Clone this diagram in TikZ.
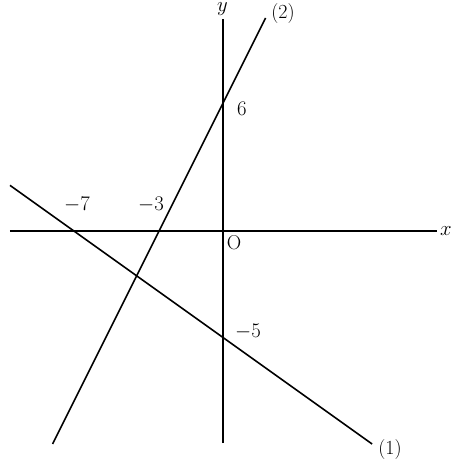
\documentclass[tikz,border=0pt]{standalone}
\begin{document}
\begin{tikzpicture}[x=21.3pt,y=21.3pt,
  curve/.style={line width=1.6pt,line cap=butt},
  lbl/.style={inner sep=0pt,font=\fontsize{20}{24}\selectfont}]
\useasboundingbox (-223pt,-230pt) rectangle (239pt,231pt);
% axes ends
\coordinate (xl) at (-213pt,0);
\coordinate (xr) at (214pt,0);
\coordinate (yb) at (0,-212pt);
\coordinate (yt) at (0,212pt);
% line (2): y = 2x + 6
\coordinate (a2) at (-8,-10);
\coordinate (b2) at (2,10);
% line (1): y = -5/7 x - 5
\coordinate (a1) at (-10,{50/7-5});
\coordinate (b1) at (7,-10);
\draw[curve] (xl) -- (xr);
\draw[curve] (yb) -- (yt);
\draw[curve] (a2) -- (b2);
\draw[curve] (a1) -- (b1);
% labels
\node[lbl] (lx) at (223pt,0pt) {$x$};
\node[lbl] (ly) at (-0.5pt,221.5pt) {$y$};
\node[lbl] (lo) at (11pt,-12pt) {O};
\node[lbl] (lm7) at (-146pt,26pt) {$-7$};
\node[lbl] (lm3) at (-72pt,26pt) {$-3$};
\node[lbl] (l6) at (19pt,122pt) {$6$};
\node[lbl] (lm5) at (25pt,-101pt) {$-5$};
\node[lbl] (l2) at (60pt,217.5pt) {(2)};
\node[lbl] (l1) at (167pt,-219pt) {(1)};
\end{tikzpicture}
\end{document}
